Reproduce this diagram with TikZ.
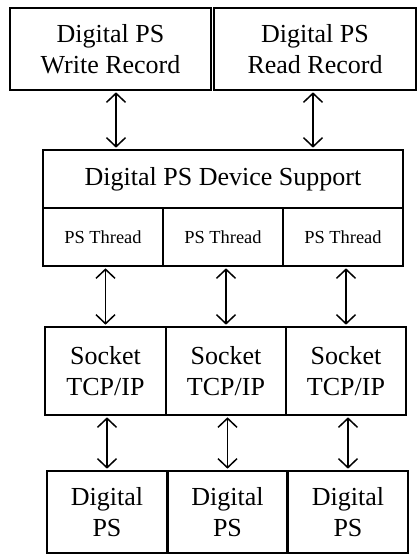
\documentclass[tikz,border=0pt]{standalone}
\usepackage{fontspec}
\setmainfont{Liberation Serif}
\usetikzlibrary{arrows.meta}
\begin{document}
\begin{tikzpicture}[x=1pt,y=-1pt,
  box/.style={draw,line width=1.6pt,inner sep=0pt,align=center,
    font=\fontsize{26}{30.5}\selectfont},
  small/.style={box,font=\fontsize{18.4}{22}\selectfont},
  link/.style={line width=1.5pt,{Straight Barb[length=9pt,width=19pt,line width=1.5pt]}-{Straight Barb[length=9pt,width=19pt,line width=1.5pt]},shorten <=1.5pt,shorten >=1.5pt}]
\useasboundingbox (0,0) rectangle (420,555);
\node[box,minimum width=201pt,minimum height=82pt] (wr) at (110.5,49) {Digital PS\\Write Record};
\node[box,minimum width=202pt,minimum height=82pt] (rr) at (315,49) {Digital PS\\Read Record};
\node[box,minimum width=360pt,minimum height=58pt] (ds) at (223,179) {Digital PS Device Support};
\node[small,minimum width=120pt,minimum height=58pt] (t1) at (103,237) {PS Thread};
\node[small,minimum width=120pt,minimum height=58pt] (t2) at (223,237) {PS Thread};
\node[small,minimum width=120pt,minimum height=58pt] (t3) at (343,237) {PS Thread};
\node[box,minimum width=121pt,minimum height=88pt] (s1) at (105.5,371) {Socket\\TCP/IP};
\node[box,minimum width=120pt,minimum height=88pt] (s2) at (226,371) {Socket\\TCP/IP};
\node[box,minimum width=120pt,minimum height=88pt] (s3) at (346,371) {Socket\\TCP/IP};
\node[box,minimum width=120pt,minimum height=82pt] (p1) at (107,512) {Digital\\PS};
\node[box,minimum width=119pt,minimum height=82pt] (p2) at (227.5,512) {Digital\\PS};
\node[box,minimum width=120pt,minimum height=82pt] (p3) at (348,512) {Digital\\PS};
\draw[link] ([xshift=5.5pt]wr.south) -- ([xshift=5.5pt]wr.south |- ds.north);
\draw[link] ([xshift=-2pt]rr.south) -- ([xshift=-2pt]rr.south |- ds.north);
\draw[link] (s1.north |- t1.south) -- (s1.north);
\draw[link] (s2.north |- t2.south) -- (s2.north);
\draw[link] (s3.north |- t3.south) -- (s3.north);
\draw[link] (p1.north |- s1.south) -- (p1.north);
\draw[link] (p2.north |- s2.south) -- (p2.north);
\draw[link] (p3.north |- s3.south) -- (p3.north);
\end{tikzpicture}
\end{document}
